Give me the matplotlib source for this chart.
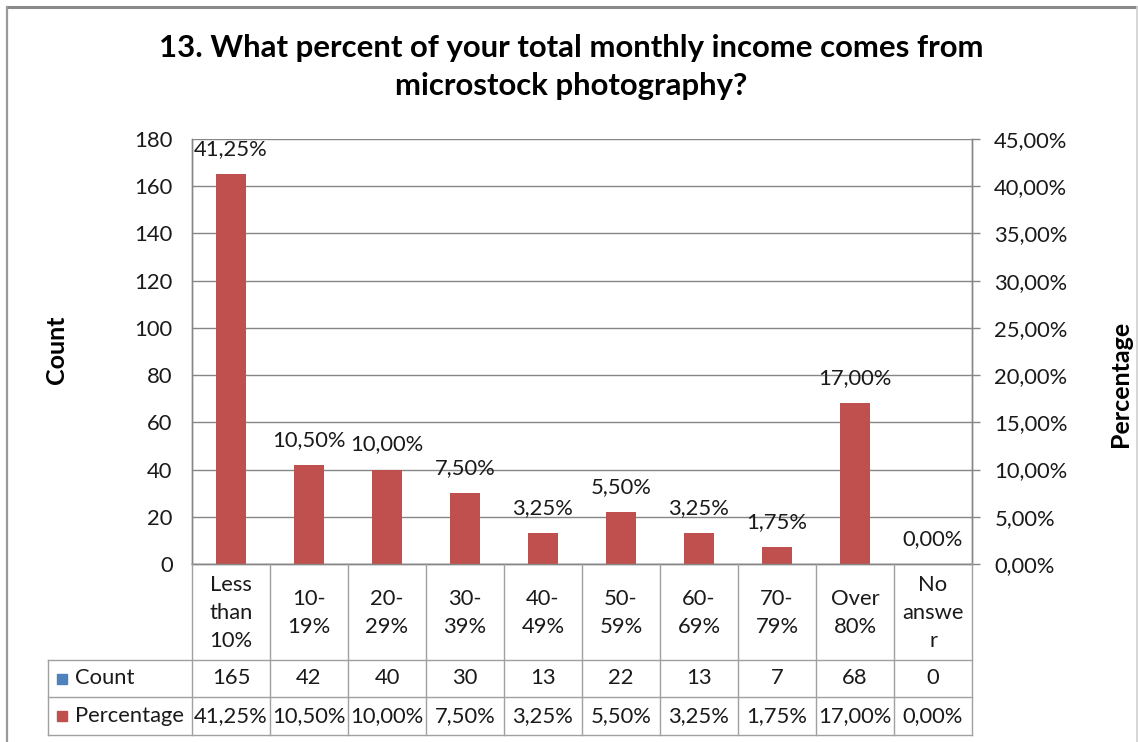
import matplotlib
matplotlib.use("Agg")
import matplotlib.pyplot as plt
from matplotlib import transforms
from matplotlib.lines import Line2D
from matplotlib.patches import Rectangle
from matplotlib.ticker import FuncFormatter

plt.rcParams["font.family"] = ["Lato", "DejaVu Sans"]

# ---- data -------------------------------------------------------------
categories = ["Less\nthan\n10%", "10-\n19%", "20-\n29%", "30-\n39%", "40-\n49%",
              "50-\n59%", "60-\n69%", "70-\n79%", "Over\n80%", "No\nanswe\nr"]
counts = [165, 42, 40, 30, 13, 22, 13, 7, 68, 0]
percentages = [41.25, 10.50, 10.00, 7.50, 3.25, 5.50, 3.25, 1.75, 17.00, 0.00]
count_ticks = [0, 20, 40, 60, 80, 100, 120, 140, 160, 180]
pct_ticks = [0, 5, 10, 15, 20, 25, 30, 35, 40, 45]
title = "13. What percent of your total monthly income comes from\nmicrostock photography?"

COUNT_COLOR = "#4F81BD"
PCT_COLOR = "#C0504D"
GRID = "#868686"
TABLE_LINE = "#A0A0A0"
TEXT = "#1a1a1a"
FS = 15.8


def pct_fmt(v):
    return f"{v:.2f}".replace(".", ",") + "%"


# ---- figure and pixel helpers ----------------------------------------
W, H = 1138, 742
fig = plt.figure(figsize=(W / 100, H / 100), dpi=100)
fig.patch.set_facecolor("white")

# overlay in pixel coordinates (origin top-left)
ov = fig.add_axes([0, 0, 1, 1], zorder=5)
ov.set_xlim(0, W)
ov.set_ylim(H, 0)
ov.axis("off")
ov.patch.set_alpha(0)

L, R, T, B = 192, 972, 139, 564
ax = fig.add_axes([L / W, 1 - B / H, (R - L) / W, (B - T) / H], zorder=2)
ax2 = ax.twinx()
ax2.set_zorder(3)
ax2.patch.set_alpha(0)

x = list(range(len(categories)))
bw = 0.39
ax.bar(x, counts, width=bw, color=COUNT_COLOR, zorder=2)
ax2.bar(x, percentages, width=bw, color=PCT_COLOR, zorder=2)

ax.set_xlim(-0.5, len(categories) - 0.5)
ax.set_ylim(0, 180)
ax2.set_ylim(0, 45)
ax.set_yticks(count_ticks)
ax2.set_yticks(pct_ticks)
ax2.yaxis.set_major_formatter(FuncFormatter(lambda v, p: pct_fmt(v)))
ax.set_xticks([])
ax.grid(axis="y", color=GRID, lw=1)
ax.set_axisbelow(True)

ax.tick_params(axis="y", length=0, pad=14, labelsize=FS, labelcolor=TEXT)
ax2.tick_params(axis="y", length=6, width=1, color=GRID, direction="out",
                pad=10, labelsize=FS, labelcolor=TEXT)

for a in (ax, ax2):
    a.spines["top"].set_visible(False)
    for s in ("left", "right", "bottom"):
        a.spines[s].set_color(GRID)
        a.spines[s].set_linewidth(1)

for i, p in enumerate(percentages):
    ax2.annotate(pct_fmt(p), xy=(i, p), xytext=(0, 18), textcoords="offset points",
                 ha="center", va="center", fontsize=FS, color=TEXT)

# ---- axis titles and chart title --------------------------------------
ov.text(57, 350, "Count", rotation=90, ha="center", va="center",
        fontsize=18, fontweight="bold", color="black")
ov.text(1121, 384, "Percentage", rotation=90, ha="center", va="center",
        fontsize=18, fontweight="bold", color="black")
ov.text(571, 67, title, ha="center", va="center", fontsize=22.4,
        fontweight="bold", color="black", linespacing=1.4)

# ---- data table below the plot -----------------------------------------
bt = transforms.blended_transform_factory(ax.transData, ov.transData)
cat_top, row1, row2, tab_bot = B, 660, 697, 735
left_col = 48

# vertical cell borders between categories
for k in range(len(categories) + 1):
    ov.add_line(Line2D([k - 0.5, k - 0.5], [cat_top, tab_bot], transform=bt,
                       color=TABLE_LINE, lw=1))
# horizontal row borders
for yy in (row1, row2, tab_bot):
    ov.plot([left_col, R], [yy, yy], color=TABLE_LINE, lw=1)
ov.plot([left_col, left_col], [row1, tab_bot], color=TABLE_LINE, lw=1)

for i, cat in enumerate(categories):
    ov.text(i, (cat_top + row1) / 2 + 1, cat, transform=bt, ha="center", va="center",
            fontsize=FS, color=TEXT, linespacing=1.5)
    ov.text(i, (row1 + row2) / 2, str(counts[i]), transform=bt, ha="center",
            va="center", fontsize=FS, color=TEXT)
    ov.text(i, (row2 + tab_bot) / 2, pct_fmt(percentages[i]), transform=bt,
            ha="center", va="center", fontsize=FS, color=TEXT)

for (yc, name, col) in (((row1 + row2) / 2, "Count", COUNT_COLOR),
                        ((row2 + tab_bot) / 2, "Percentage", PCT_COLOR)):
    ov.add_patch(Rectangle((57, yc - 5), 10, 10, color=col))
    ov.text(75, yc, name, ha="left", va="center", fontsize=FS, color=TEXT)

# ---- chart frame ------------------------------------------------------------
ov.plot([6, 1137], [7, 7], color="#8a8a8a", lw=2.2, solid_capstyle="butt")
ov.plot([7, 7], [7, H], color="#9a9a9a", lw=1.6)
ov.plot([1137, 1137], [7, H], color="#d0d0d0", lw=1.2)

fig.savefig("out.png", dpi=100, facecolor="white")
